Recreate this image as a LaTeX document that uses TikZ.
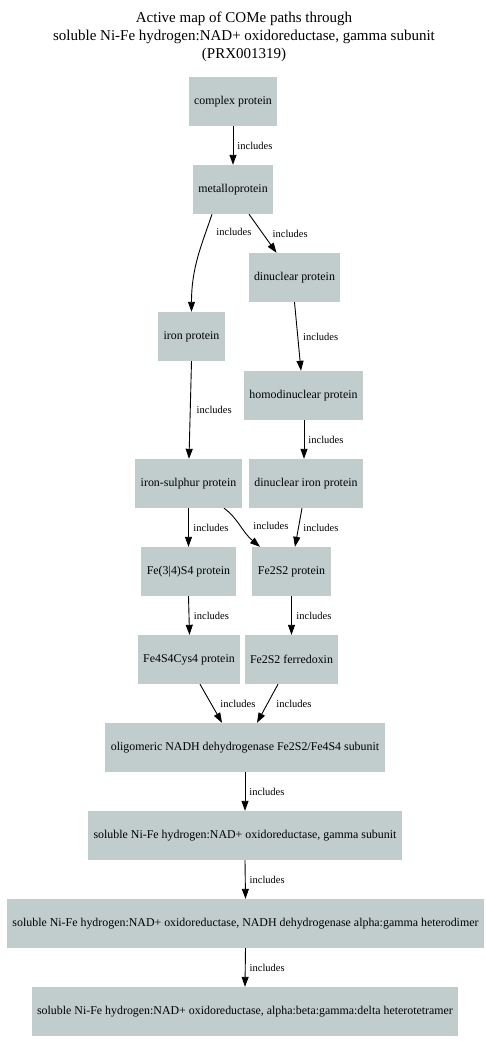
\documentclass[tikz,border=0pt]{standalone}
\usepackage{fontspec}
\setmainfont{Liberation Serif}
\usetikzlibrary{arrows.meta}
\definecolor{boxfill}{RGB}{193,205,205}

\begin{document}
\begin{tikzpicture}
  [x=1pt,y=-1pt,
   box/.style={rectangle,fill=boxfill,minimum height=49pt,inner xsep=5.5pt,inner ysep=0pt,
     font=\fontsize{11.9}{14}\selectfont},
   lbl/.style={anchor=west,inner sep=0pt,font=\fontsize{10.5}{12}\selectfont},
   ttl/.style={align=center,inner sep=0pt,font=\fontsize{15}{18}\selectfont},
   edge/.style={line width=0.9pt,-{Triangle[length=10pt,width=7pt]}}]
  \useasboundingbox (0,0) rectangle (486,1052);

  \node[ttl] (title) at (244,37) {Active map of COMe paths through\\
    soluble Ni-Fe hydrogen:NAD+ oxidoreductase, gamma subunit\\(PRX001319)};

  \node[box] (cplx)  at (233,  101.5) {complex protein};
  \node[box] (metal) at (233,  189.5) {metalloprotein};
  \node[box] (dinuc) at (294.5,277.5) {dinuclear protein};
  \node[box] (iron)  at (191.5,336.5) {iron protein};
  \node[box] (homod) at (303.5,395.5) {homodinuclear protein};
  \node[box] (isul)  at (188.5,483.5) {iron-sulphur protein};
  \node[box] (dfe)   at (306,  483.5) {dinuclear iron protein};
  \node[box] (fe34)  at (188.5,571.5) {Fe(3|4)S4 protein};
  \node[box] (fe2)   at (291.5,571.5) {Fe2S2 protein};
  \node[box] (fe4)   at (189,  659.5) {Fe4S4Cys4 protein};
  \node[box] (fd)    at (291.5,659.5) {Fe2S2 ferredoxin};
  \node[box] (olig)  at (245,  747.5) {oligomeric NADH dehydrogenase Fe2S2/Fe4S4 subunit};
  \node[box] (gamma) at (245,  835.5) {soluble Ni-Fe hydrogen:NAD+ oxidoreductase, gamma subunit};
  \node[box] (dimer) at (245.5,923.5) {soluble Ni-Fe hydrogen:NAD+ oxidoreductase, NADH dehydrogenase alpha:gamma heterodimer};
  \node[box] (tetra) at (245, 1011.5) {soluble Ni-Fe hydrogen:NAD+ oxidoreductase, alpha:beta:gamma:delta heterotetramer};

  \foreach \from/\sa/\to/\sb/\lx in {cplx/0/metal/0/4, metal/16/dinuc/-18/9.5,
      dinuc/0/homod/-2.5/5, iron/0/isul/0.5/6, homod/0.5/dfe/-2/4,
      isul/0/fe34/0/4.5, dfe/-4/fe2/3.5/4.5, fe34/0/fe4/0.5/4.5, fe2/0/fd/0/4.5,
      fe4/11/olig/-23/9, fd/-13.5/olig/12/8.5,
      olig/0/gamma/0/4, gamma/0/dimer/0/4, dimer/0/tetra/0/4}
    \draw[edge] ([xshift=\sa pt]\from.south) -- node[lbl,xshift=\lx pt] {includes}
      ([xshift=\sb pt]\to.north);

  \draw[edge] ([xshift=-21pt]metal.south) .. controls +(-10,30) and +(0,-45) ..
    node[lbl,pos=.2,xshift=10pt] {includes} (iron.north);
  \draw[edge] ([xshift=35.5pt]isul.south) .. controls +(14,10) and +(-18,-15) ..
    node[lbl,pos=.5,xshift=12.5pt] {includes} ([xshift=-31.5pt]fe2.north);
\end{tikzpicture}
\end{document}
